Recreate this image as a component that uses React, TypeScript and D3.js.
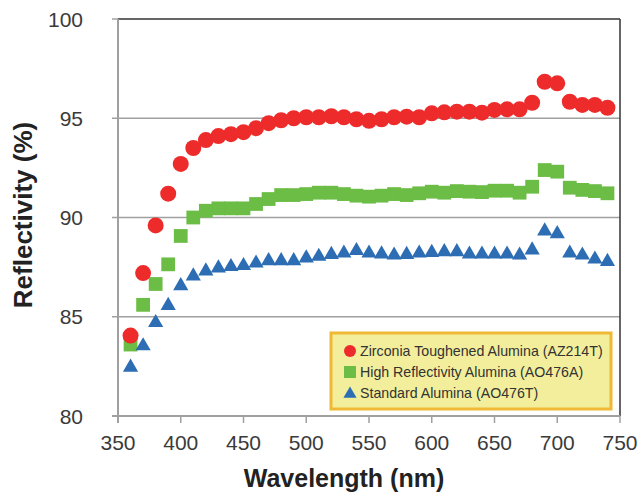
import React from "react";
import * as d3 from "d3";

const wavelengths = [
  360, 370, 380, 390, 400, 410, 420, 430, 440, 450, 460, 470, 480, 490, 500,
  510, 520, 530, 540, 550, 560, 570, 580, 590, 600, 610, 620, 630, 640, 650,
  660, 670, 680, 690, 700, 710, 720, 730, 740,
];

// Zirconia Toughened Alumina (AZ214T)
const zta = [
  84.05, 87.2, 89.6, 91.2, 92.7, 93.5, 93.9, 94.1, 94.2, 94.3, 94.5, 94.75,
  94.9, 95.0, 95.05, 95.05, 95.1, 95.05, 94.95, 94.87, 94.95, 95.05, 95.08,
  95.05, 95.25, 95.3, 95.33, 95.33, 95.28, 95.42, 95.45, 95.45, 95.78, 96.84,
  96.76, 95.83, 95.67, 95.67, 95.53,
];

// High Reflectivity Alumina (AO476A)
const hra = [
  83.6, 85.6, 86.65, 87.64, 89.07, 90.0, 90.34, 90.46, 90.46, 90.46, 90.68,
  90.93, 91.13, 91.13, 91.18, 91.25, 91.25, 91.18, 91.1, 91.05, 91.1, 91.18,
  91.13, 91.22, 91.3, 91.25, 91.33, 91.3, 91.28, 91.35, 91.35, 91.25, 91.55,
  92.39, 92.31, 91.5, 91.39, 91.33, 91.22,
];

// Standard Alumina (AO476T)
const std = [
  82.45, 83.53, 84.7, 85.56, 86.56, 87.05, 87.3, 87.45, 87.52, 87.57, 87.7,
  87.82, 87.82, 87.82, 87.96, 88.04, 88.13, 88.2, 88.33, 88.2, 88.16, 88.1,
  88.13, 88.2, 88.23, 88.27, 88.27, 88.15, 88.15, 88.15, 88.15, 88.1, 88.36,
  89.32, 89.18, 88.2, 88.1, 87.9, 87.78,
];

const xTicks = [350, 400, 450, 500, 550, 600, 650, 700, 750];
const yTicks = [80, 85, 90, 95, 100];

const seriesNames = [
  "Zirconia Toughened Alumina (AZ214T)",
  "High Reflectivity Alumina (AO476A)",
  "Standard Alumina (AO476T)",
];

const RED = "#ee2b2b";
const GREEN = "#6cbd45";
const BLUE = "#2d6db3";
const FONT = "'Liberation Sans', Arial, Helvetica, sans-serif";

export default function App() {
  const W = 640;
  const H = 494;
  const left = 118, right = 620, top = 19, bottom = 416;

  const x = d3.scaleLinear().domain([350, 750]).range([left, right]);
  const y = d3.scaleLinear().domain([80, 100]).range([bottom, top]);

  const square = d3.symbol(d3.symbolSquare, 190)();
  const triangle = d3.symbol(d3.symbolTriangle, 100)();

  const legX = 331, legY = 333, legW = 280, legH = 76;
  const rowY = [351, 372, 393];

  return (
    <svg
      width={W}
      height={H}
      style={{ position: "absolute", left: 0, top: 0, background: "#fff" }}
      fontFamily={FONT}
    >
      {/* gridlines */}
      {yTicks.slice(1, -1).map((t) => (
        <line key={t} x1={left - 6} x2={right} y1={y(t)} y2={y(t)} stroke="#a0a0a0" strokeWidth={1.5} />
      ))}
      {/* frame */}
      <line x1={left} x2={right} y1={top} y2={top} stroke="#333" strokeWidth={1.5} />
      <line x1={right} x2={right} y1={top} y2={bottom} stroke="#333" strokeWidth={1.5} />
      <line x1={left} x2={left} y1={top} y2={bottom + 7} stroke="#a0a0a0" strokeWidth={2} />
      <line x1={left - 6} x2={right} y1={bottom} y2={bottom} stroke="#a0a0a0" strokeWidth={2} />
      <line x1={left - 6} x2={left} y1={top} y2={top} stroke="#a0a0a0" strokeWidth={1.5} />
      {xTicks.map((t) => (
        <line key={t} x1={x(t)} x2={x(t)} y1={bottom} y2={bottom + 7} stroke="#a0a0a0" strokeWidth={1.5} />
      ))}

      {/* tick labels */}
      {yTicks.map((t) => (
        <text key={t} x={83} y={y(t)} dy="0.36em" textAnchor="end" fontSize={21} fill="#3a3a3a">
          {t}
        </text>
      ))}
      {xTicks.map((t) => (
        <text key={t} x={x(t)} y={450} textAnchor="middle" fontSize={21} fill="#3a3a3a">
          {t}
        </text>
      ))}

      {/* axis titles */}
      <text x={344} y={487} textAnchor="middle" fontSize={25} fontWeight="bold" fill="#222">
        Wavelength (nm)
      </text>
      <text
        transform={`translate(32,${215}) rotate(-90)`}
        textAnchor="middle"
        fontSize={26}
        fontWeight="bold"
        fill="#222"
      >
        Reflectivity (%)
      </text>

      {/* markers */}
      {wavelengths.map((w, i) => (
        <path key={"g" + w} d={square} transform={`translate(${x(w)},${y(hra[i])})`} fill={GREEN} />
      ))}
      {wavelengths.map((w, i) => (
        <path key={"b" + w} d={triangle} transform={`translate(${x(w)},${y(std[i])})`} fill={BLUE} />
      ))}
      {wavelengths.map((w, i) => (
        <circle key={"r" + w} cx={x(w)} cy={y(zta[i])} r={8} fill={RED} />
      ))}

      {/* legend */}
      <rect x={legX} y={legY} width={legW} height={legH} fill="#f2ee9c" stroke="#f0b935" strokeWidth={3} />
      <circle cx={350} cy={rowY[0]} r={6} fill={RED} />
      <rect x={344} y={rowY[1] - 6} width={12} height={12} fill={GREEN} />
      <path d={d3.symbol(d3.symbolTriangle, 75)()} transform={`translate(350,${rowY[2] + 1})`} fill={BLUE} />
      {seriesNames.map((s, i) => (
        <text key={s} x={360} y={rowY[i]} dy="0.36em" fontSize={14.2} fill="#333">
          {s}
        </text>
      ))}
    </svg>
  );
}
